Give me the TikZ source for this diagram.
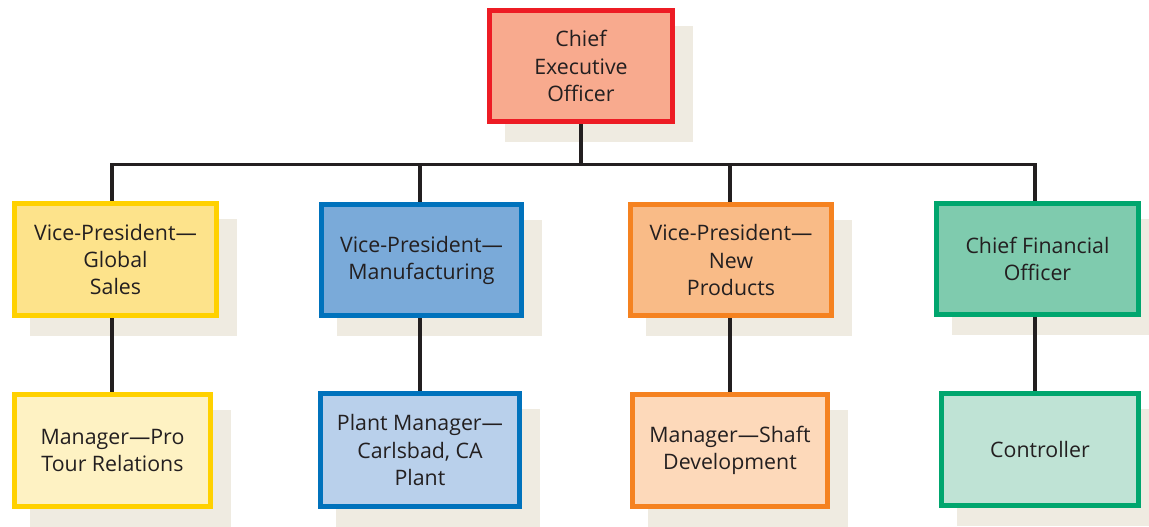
\documentclass[tikz,border=0pt]{standalone}
\usepackage{fontspec}
\setmainfont{Open Sans}
\definecolor{shadowc}{HTML}{EFEBE1}
\definecolor{txt}{HTML}{231F20}
\definecolor{redB}{HTML}{ED1C24}\definecolor{redF}{HTML}{F8AA8E}
\definecolor{yelB}{HTML}{FFD100}\definecolor{yelF}{HTML}{FDE38B}\definecolor{yelL}{HTML}{FEF2C3}
\definecolor{bluB}{HTML}{0072BC}\definecolor{bluF}{HTML}{7AAAD9}\definecolor{bluL}{HTML}{B9D0EB}
\definecolor{oraB}{HTML}{F58220}\definecolor{oraF}{HTML}{F9BB87}\definecolor{oraL}{HTML}{FDD9BA}
\definecolor{grnB}{HTML}{00A66E}\definecolor{grnF}{HTML}{7FCBAE}\definecolor{grnL}{HTML}{BFE3D5}
\tikzset{
  orgbox/.style={draw, line width=3.4pt, inner sep=0pt, align=center, text=txt,
    font=\fontsize{16}{20.3}\selectfont},
  conn/.style={draw=txt, line width=2.3pt}
}
% #1 name, #2 cx, #3 cy, #4 w, #5 h, #6 fill, #7 border, #8 text
\newcommand{\orgnode}[8]{%
  \fill[shadowc] ({#2-#4/2+18},{#3-#5/2+18}) rectangle ({#2+#4/2+18},{#3+#5/2+18});
  \node[orgbox, fill=#6, draw=#7, minimum width={(#4-4.5)*0.75pt}, minimum height={(#5-4.5)*0.75pt}] (#1) at (#2,#3) {#8};
}
\begin{document}
\begin{tikzpicture}[x=0.75pt,y=-0.75pt]
\useasboundingbox (0,0) rectangle (1149,526);
\clip (0,0) rectangle (1149,526);
\orgnode{ceo}{581}{66}{188}{116}{redF}{redB}{Chief\\Executive\\Officer}
\orgnode{vpa}{115.5}{259.5}{207}{117}{yelF}{yelB}{Vice-President—\\Global\\Sales}
\orgnode{vpb}{421.5}{260}{205}{116}{bluF}{bluB}{Vice-President—\\Manufacturing}
\orgnode{vpc}{731}{260}{206}{116}{oraF}{oraB}{Vice-President—\\New\\Products}
\orgnode{vpd}{1037.5}{259}{207}{116}{grnF}{grnB}{Chief Financial\\Officer}
\orgnode{ba}{112.5}{450.5}{201}{117}{yelL}{yelB}{Manager—Pro\\Tour Relations}
\orgnode{bb}{420}{450}{204}{118}{bluL}{bluB}{Plant Manager—\\Carlsbad, CA\\Plant}
\orgnode{bc}{730}{450.5}{200}{117}{oraL}{oraB}{Manager—Shaft\\Development}
\orgnode{bd}{1040}{449.5}{202}{117}{grnL}{grnB}{Controller}
\coordinate (busc) at (581,164.5);
\coordinate (busa) at (112,164.5);
\coordinate (busb) at (420,164.5);
\coordinate (busx) at (730,164.5);
\coordinate (busd) at (1035,164.5);
\draw[conn] (ceo.south) -- (busc);
\draw[conn, line cap=rect] (busa) -- (busd);
\draw[conn] (busa) -- (busa |- vpa.north);
\draw[conn] (busb) -- (busb |- vpb.north);
\draw[conn] (busx) -- (busx |- vpc.north);
\draw[conn] (busd) -- (busd |- vpd.north);
\draw[conn] (busa |- vpa.south) -- (busa |- ba.north);
\draw[conn] (busb |- vpb.south) -- (busb |- bb.north);
\draw[conn] (busx |- vpc.south) -- (busx |- bc.north);
\draw[conn] (busd |- vpd.south) -- (busd |- bd.north);
\end{tikzpicture}
\end{document}
